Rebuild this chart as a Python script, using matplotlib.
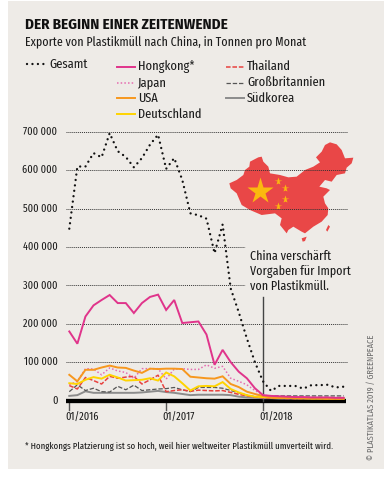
import matplotlib
matplotlib.use("Agg")
import matplotlib.pyplot as plt
from matplotlib.patches import Polygon, Rectangle

plt.rcParams['font.family'] = ['Fira Sans Extra Condensed', 'Roboto Condensed', 'Liberation Sans', 'DejaVu Sans']
TITLE_FONT = ['Fira Sans Condensed', 'Roboto Condensed', 'Liberation Sans', 'DejaVu Sans']

W, H = 389, 491
BG = '#eeebe7'
INK = '#1c1c1c'

# months since 01/2016, values in tonnes / 1000
gesamt = [448, 610, 610, 645, 634, 697, 650, 635, 608, 632, 667, 693, 604, 632, 575, 488, 483, 474,
          384, 459, 292, 230, 162, 100, 50, 25, 38, 38, 38, 31, 40, 40, 41, 34, 36]
hongkong = [180, 148, 219, 248, 262, 275, 254, 254, 228, 254, 270, 276, 236, 262, 202, 204, 206, 172,
            93, 132, 100, 75, 58, 32, 14, 12, 11, 10, 9, 9, 8, 8, 8, 7, 7]
japan = [41, 50, 83, 82, 67, 85, 77, 73, 58, 83, 83, 83, 56, 82, 83, 81, 81, 93,
         84, 89, 58, 50, 41, 26, 15, 10, 9, 8, 8, 7, 7, 7, 6, 6, 6]
usa = [67, 50, 80, 80, 86, 91, 86, 85, 78, 72, 83, 82, 83, 83, 82, 62, 60, 58,
       57, 63, 43, 35, 23, 17, 12, 8, 7, 7, 6, 6, 6, 6, 5, 5, 5]
deutschland = [45, 43, 54, 61, 57, 67, 60, 52, 53, 54, 58, 52, 73, 63, 45, 26, 37, 38,
               37, 48, 30, 21, 14, 10, 9, 8, 7, 7, 6, 6, 5, 5, 5, 5, 5]
thailand = [39, 30, 60, 52, 43, 63, 58, 61, 63, 43, 54, 66, 23, 26, 28, 24, 27, 26,
            25, 26, 21, 16, 12, 9, 7, 6, 6, 5, 5, 5, 5, 5, 4, 4, 4]
grossbritannien = [23, 41, 26, 32, 23, 22, 37, 28, 40, 26, 28, 30, 31, 34, 28, 23, 34, 34,
                   34, 32, 26, 20, 14, 10, 12, 12, 12, 12, 12, 12, 12, 12, 12, 12, 12]
suedkorea = [12, 14, 24, 20, 20, 20, 20, 20, 20, 21, 23, 25, 22, 20, 17, 14, 15, 15,
             15, 15, 14, 10, 8, 7, 6, 6, 5, 5, 5, 5, 5, 5, 5, 5, 5]

y_ticks = [0, 100, 200, 300, 400, 500, 600, 700]
y_labels = ['0', '100 000', '200 000', '300 000', '400 000', '500 000', '600 000', '700 000']
x_ticks = [0, 12, 24]
x_labels = ['01/2016', '01/2017', '01/2018']

DOT = (0, (0.01, 2.3))
series = [
    ('Südkorea', suedkorea, '#8c8c8c', '-', 1.4),
    ('Großbritannien', grossbritannien, '#555555', (0, (3.5, 1.5)), 0.9),
    ('Thailand', thailand, '#e8423f', (0, (3, 1.2)), 1.1),
    ('Japan', japan, '#e56cb0', (0, (1, 1.4)), 1.1),
    ('Deutschland', deutschland, '#ffd400', '-', 1.4),
    ('USA', usa, '#f7971e', '-', 1.4),
    ('Hongkong*', hongkong, '#e0348b', '-', 1.4),
]

fig = plt.figure(figsize=(W / 100, H / 100), dpi=100, facecolor='white')

# page layer in pixel coordinates
bg = fig.add_axes([0, 0, 1, 1], zorder=0)
bg.set_xlim(0, W)
bg.set_ylim(H, 0)
bg.axis('off')
bg.add_patch(Rectangle((8, 1), 376, 468, fc=BG, ec='none'))

# map of china
outline = [(118, 175), (140, 165), (160, 150), (165, 135), (178, 125), (180, 110), (205, 97), (215, 95),
           (220, 110), (235, 125), (240, 145), (270, 150), (295, 157), (320, 155), (345, 135), (370, 125),
           (390, 112), (378, 97), (395, 80), (405, 60), (420, 52), (440, 58), (455, 75), (465, 100),
           (490, 98), (485, 115), (470, 128), (465, 145), (440, 150), (425, 170), (405, 165), (388, 185),
           (410, 190), (420, 195), (400, 215), (405, 235), (415, 250), (413, 270), (395, 290), (370, 305),
           (345, 325), (335, 320), (310, 305), (295, 315), (290, 325), (270, 300), (275, 280), (255, 265),
           (215, 270), (180, 255), (155, 240), (140, 205), (122, 190)]
hainan = [(335, 340), (350, 335), (345, 348), (338, 350)]
taiwan = [(408, 315), (415, 300), (420, 305), (412, 320)]
for shape in (outline, hainan, taiwan):
    bg.add_patch(Polygon([(190 + x / 3, 125 + y / 3) for x, y in shape], fc='#e94747', ec='none'))
stars = [(209, 198, 28), (263, 167, 8), (285, 189, 8), (285, 221, 8), (263, 242, 8)]
for x, y, size in stars:
    bg.plot(190 + x / 3, 125 + y / 3, marker='*', ms=size * 0.72, color='#fbb80f', mec='none')

# chart layer
ax = fig.add_axes([66 / W, 1 - 400.5 / H, (347 - 66) / W, (400.5 - 132) / H], zorder=1)
ax.patch.set_alpha(0)
px = 8.07
ax.set_xlim((66 - 69.3) / px, (347 - 69.3) / px)
ax.set_ylim(0, 700)
for s in ax.spines.values():
    s.set_visible(False)
ax.tick_params(left=False, bottom=False, labelleft=False, labelbottom=False)

for t in y_ticks[1:]:
    xmax = (245 - 69.3) / px if t in (300, 400) else (347 - 69.3) / px
    ax.plot([(66 - 69.3) / px, xmax], [t, t], color='#333333', lw=0.7, ls=(0, (1, 1)), clip_on=False, zorder=1)

ax.plot([(66 - 69.3) / px, (346 - 69.3) / px], [0, 0], color='black', lw=3.1, solid_capstyle='butt',
        clip_on=False, zorder=2)
for t in x_ticks:
    ax.plot([t, t], [0, -24], color='#555555', lw=1.0, clip_on=False, zorder=1)
ax.plot([24, 24], [0, 270], color='#444444', lw=1.0, clip_on=False, zorder=3)

months = list(range(len(gesamt)))
for name, vals, col, ls, lw in series:
    ax.plot(months, vals, color=col, ls=ls, lw=lw, clip_on=False, zorder=4, solid_joinstyle='miter')
ax.plot(months, gesamt, color='#111111', ls=DOT, lw=1.7, dash_capstyle='round', clip_on=False, zorder=5)

# y labels, x labels
for t, lab in zip(y_ticks, y_labels):
    bg.text(57.5, 400.5 - t * 0.3836, lab, ha='right', va='center', fontsize=8, color=INK)
for t, lab in zip(x_ticks, x_labels):
    bg.text(69.3 + t * px - 4, 418, lab, ha='left', va='center', fontsize=8, color=INK)

bg.text(25, 25, 'DER BEGINN EINER ZEITENWENDE', fontsize=10.8, fontweight='bold', va='center', color='#111111',
        family=TITLE_FONT)
bg.text(25, 42, 'Exporte von Plastikmüll nach China, in Tonnen pro Monat', fontsize=9.3, va='center', color=INK)

# legend
bg.plot([27, 46], [64, 64], color='#111111', ls=DOT, lw=1.7, dash_capstyle='round')
bg.text(49, 64, 'Gesamt', fontsize=9.7, va='center', color=INK)
legend_pos = {
    'Hongkong*': (117, 66.5), 'Japan': (117, 82.5), 'USA': (117, 98), 'Deutschland': (117, 114),
    'Thailand': (226, 66.5), 'Großbritannien': (226, 82.5), 'Südkorea': (226, 98),
}
for name, vals, col, ls, lw in series:
    x, y = legend_pos[name]
    bg.plot([x, x + 18], [y, y], color=col, ls=ls, lw=lw)
    bg.text(x + 21, y, name, fontsize=9.7, va='center', color=INK)

# annotation
for y, line in zip((256, 271, 286), ('China verschärft', 'Vorgaben für Import', 'von Plastikmüll.')):
    bg.text(250, y, line, fontsize=9.4, va='center', color=INK)

bg.text(25, 446, '* Hongkongs Platzierung ist so hoch, weil hier weltweiter Plastikmüll umverteilt wird.',
        fontsize=6.9, va='center', color=INK)
bg.text(371, 460, '© PLASTIKATLAS 2019 / GREENPEACE', fontsize=6.6, rotation=90, ha='center', va='bottom',
        color='#6f6f6f')

fig.savefig('out.png', dpi=100, facecolor='white')
